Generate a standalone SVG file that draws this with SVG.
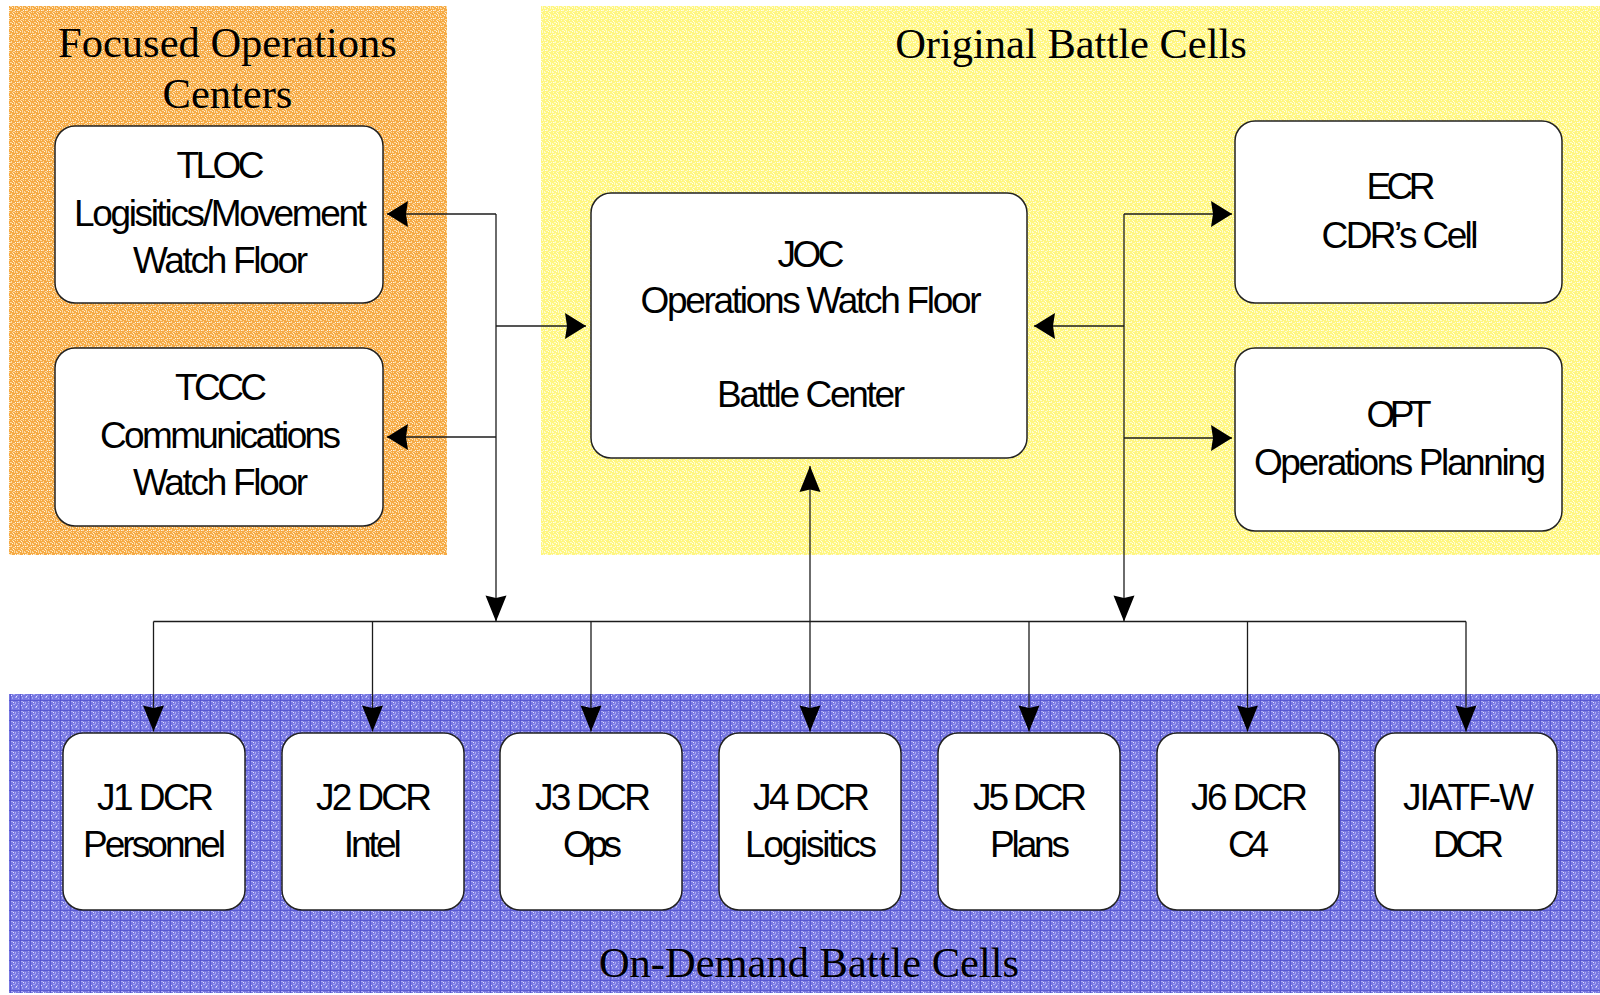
<svg xmlns="http://www.w3.org/2000/svg" width="1600" height="995" viewBox="0 0 1600 995">
  <defs>
    <style>
      .title { font-family: "Liberation Serif", "Times New Roman", serif; font-size: 42.5px; fill: #000; text-anchor: middle; }
      .label { font-family: "Liberation Sans", Arial, sans-serif; font-size: 37px; fill: #000; text-anchor: middle; }
      .box { fill: #fff; stroke: #222; stroke-width: 1.5; }
      .wire { fill: none; stroke: #1c1c1c; stroke-width: 1.3; }
    </style>

    <!-- grainy fills for the three cell zones -->
    <pattern id="texOrange" width="8" height="8" patternUnits="userSpaceOnUse">
      <rect width="8" height="8" fill="#F6AA44"/>
      <g fill="#FCDAA4">
        <rect x="0" y="0" width="2" height="1"/><rect x="3" y="1" width="1" height="2"/>
        <rect x="6" y="0" width="1" height="1"/><rect x="5" y="3" width="2" height="1"/>
        <rect x="1" y="4" width="1" height="1"/><rect x="2" y="6" width="2" height="1"/>
        <rect x="6" y="6" width="1" height="2"/><rect x="0" y="7" width="1" height="1"/>
        <rect x="4" y="4" width="1" height="1"/><rect x="7" y="4" width="1" height="1"/>
        <rect x="2" y="2" width="1" height="1"/>
      </g>
      <g fill="#FFF6E6">
        <rect x="7" y="2" width="1" height="1"/><rect x="1" y="2" width="1" height="1"/>
        <rect x="4" y="7" width="1" height="1"/><rect x="5" y="5" width="1" height="1"/>
      </g>
    </pattern>
    <pattern id="texYellow" width="8" height="8" patternUnits="userSpaceOnUse">
      <rect width="8" height="8" fill="#FFF680"/>
      <g fill="#FFFCCC">
        <rect x="0" y="0" width="2" height="1"/><rect x="3" y="1" width="1" height="2"/>
        <rect x="6" y="0" width="1" height="1"/><rect x="5" y="3" width="2" height="1"/>
        <rect x="1" y="4" width="1" height="1"/><rect x="2" y="6" width="2" height="1"/>
        <rect x="6" y="6" width="1" height="2"/><rect x="0" y="7" width="1" height="1"/>
        <rect x="4" y="4" width="1" height="1"/><rect x="7" y="2" width="1" height="1"/>
        <rect x="2" y="2" width="1" height="1"/>
      </g>
      <g fill="#FFFFF2">
        <rect x="1" y="2" width="1" height="1"/><rect x="4" y="7" width="1" height="1"/>
        <rect x="5" y="5" width="1" height="1"/>
      </g>
    </pattern>
    <pattern id="texBlue" width="10" height="10" patternUnits="userSpaceOnUse">
      <rect width="10" height="10" fill="#7878E2"/>
      <g fill="#ABABF3">
        <rect x="1" y="1" width="2" height="1"/><rect x="5" y="2" width="1" height="2"/>
        <rect x="8" y="1" width="1" height="1"/><rect x="3" y="4" width="2" height="1"/>
        <rect x="7" y="5" width="1" height="1"/><rect x="2" y="7" width="1" height="2"/>
        <rect x="5" y="7" width="2" height="1"/><rect x="8" y="8" width="1" height="1"/>
        <rect x="8" y="3" width="1" height="1"/>
      </g>
      <g fill="#EAEAFF">
        <rect x="3" y="2" width="1" height="1"/><rect x="6" y="6" width="1" height="1"/>
        <rect x="1" y="5" width="1" height="1"/>
      </g>
      <g fill="#5252CE">
        <rect x="0" y="0" width="10" height="0.8"/><rect x="0" y="0" width="0.8" height="10"/>
      </g>
    </pattern>

    <!-- arrowheads: horizontal runs use a shorter, wider head than vertical runs -->
    <marker id="headH" markerUnits="userSpaceOnUse" markerWidth="24" markerHeight="28" viewBox="-22 -14 24 28" refX="0" refY="0" orient="auto">
      <path d="M0,0 L-21,-13 L-19,0 L-21,13 Z" fill="#000"/>
    </marker>
    <marker id="headV" markerUnits="userSpaceOnUse" markerWidth="28" markerHeight="24" viewBox="-27 -12 28 24" refX="0" refY="0" orient="auto-start-reverse">
      <path d="M0,0 L-26,-10.5 L-23.5,0 L-26,10.5 Z" fill="#000"/>
    </marker>
  </defs>

  <rect width="1600" height="995" fill="#fff"/>

  <!-- zones -->
  <g id="zones">
    <rect x="9" y="6" width="438" height="549" fill="url(#texOrange)"/>
    <rect x="541" y="6" width="1059" height="549" fill="url(#texYellow)"/>
    <rect x="9" y="694" width="1591" height="299" fill="url(#texBlue)"/>
    <text class="title" x="227.5" y="57">Focused Operations</text>
    <text class="title" x="227.5" y="108">Centers</text>
    <text class="title" x="1071" y="58">Original Battle Cells</text>
    <text class="title" x="809" y="977">On-Demand Battle Cells</text>
  </g>

  <!-- connectors -->
  <g id="connectors" class="wire">
    <path d="M496,214 V621.5" marker-end="url(#headV)"/>
    <path d="M496,214 H387" marker-end="url(#headH)"/>
    <path d="M496,437 H387" marker-end="url(#headH)"/>
    <path d="M496,326 H586" marker-end="url(#headH)"/>
    <path d="M1124,214 V621.5" marker-end="url(#headV)"/>
    <path d="M1124,214 H1232" marker-end="url(#headH)"/>
    <path d="M1124,326 H1034" marker-end="url(#headH)"/>
    <path d="M1124,438 H1232" marker-end="url(#headH)"/>
    <path d="M810,466 V731.5" marker-start="url(#headV)" marker-end="url(#headV)"/>
    <path d="M153.5,621.5 H1466"/>
    <path d="M153.5,621.5 V731.5" marker-end="url(#headV)"/>
    <path d="M372.5,621.5 V731.5" marker-end="url(#headV)"/>
    <path d="M591,621.5 V731.5" marker-end="url(#headV)"/>
    <path d="M1029,621.5 V731.5" marker-end="url(#headV)"/>
    <path d="M1247.5,621.5 V731.5" marker-end="url(#headV)"/>
    <path d="M1466,621.5 V731.5" marker-end="url(#headV)"/>
  </g>

  <!-- focused operations centers -->
  <g id="tloc">
    <rect class="box" x="55" y="126" width="328" height="177" rx="20"/>
    <text class="label" x="220.5" y="178" textLength="88" lengthAdjust="spacing">TLOC</text>
    <text class="label" x="220.5" y="226" textLength="293" lengthAdjust="spacing">Logisitics/Movement</text>
    <text class="label" x="220.5" y="273" textLength="175" lengthAdjust="spacing">Watch Floor</text>
  </g>
  <g id="tccc">
    <rect class="box" x="55" y="348" width="328" height="178" rx="20"/>
    <text class="label" x="221" y="400" textLength="92" lengthAdjust="spacing">TCCC</text>
    <text class="label" x="220.5" y="448" textLength="241" lengthAdjust="spacing">Communications</text>
    <text class="label" x="220.5" y="495" textLength="175" lengthAdjust="spacing">Watch Floor</text>
  </g>

  <!-- original battle cells -->
  <g id="joc">
    <rect class="box" x="591" y="193" width="436" height="265" rx="20"/>
    <text class="label" x="811" y="267" textLength="67" lengthAdjust="spacing">JOC</text>
    <text class="label" x="811" y="313" textLength="341" lengthAdjust="spacing">Operations Watch Floor</text>
    <text class="label" x="811" y="407" textLength="188" lengthAdjust="spacing">Battle Center</text>
  </g>
  <g id="ecr">
    <rect class="box" x="1235" y="121" width="327" height="182" rx="20"/>
    <text class="label" x="1401" y="199" textLength="69" lengthAdjust="spacing">ECR</text>
    <text class="label" x="1400" y="248" textLength="157" lengthAdjust="spacing">CDR’s Cell</text>
  </g>
  <g id="opt">
    <rect class="box" x="1235" y="348" width="327" height="183" rx="20"/>
    <text class="label" x="1399" y="427" textLength="65" lengthAdjust="spacing">OPT</text>
    <text class="label" x="1400" y="475" textLength="292" lengthAdjust="spacing">Operations Planning</text>
  </g>

  <!-- on-demand battle cells -->
  <g id="j1">
    <rect class="box" x="63" y="733" width="182" height="177" rx="20"/>
    <text class="label" x="155.5" y="810" textLength="117" lengthAdjust="spacing">J1 DCR</text>
    <text class="label" x="154.5" y="857" textLength="143" lengthAdjust="spacing">Personnel</text>
  </g>
  <g id="j2">
    <rect class="box" x="282" y="733" width="182" height="177" rx="20"/>
    <text class="label" x="374" y="810" textLength="116" lengthAdjust="spacing">J2 DCR</text>
    <text class="label" x="372.7" y="857" textLength="58" lengthAdjust="spacing">Intel</text>
  </g>
  <g id="j3">
    <rect class="box" x="500" y="733" width="182" height="177" rx="20"/>
    <text class="label" x="593" y="810" textLength="116" lengthAdjust="spacing">J3 DCR</text>
    <text class="label" x="592.5" y="857" textLength="59" lengthAdjust="spacing">Ops</text>
  </g>
  <g id="j4">
    <rect class="box" x="719" y="733" width="182" height="177" rx="20"/>
    <text class="label" x="811.5" y="810" textLength="117" lengthAdjust="spacing">J4 DCR</text>
    <text class="label" x="811" y="857" textLength="132" lengthAdjust="spacing">Logisitics</text>
  </g>
  <g id="j5">
    <rect class="box" x="938" y="733" width="182" height="177" rx="20"/>
    <text class="label" x="1030" y="810" textLength="114" lengthAdjust="spacing">J5 DCR</text>
    <text class="label" x="1030" y="857" textLength="80" lengthAdjust="spacing">Plans</text>
  </g>
  <g id="j6">
    <rect class="box" x="1157" y="733" width="182" height="177" rx="20"/>
    <text class="label" x="1249.5" y="810" textLength="117" lengthAdjust="spacing">J6 DCR</text>
    <text class="label" x="1248.5" y="857" textLength="41" lengthAdjust="spacing">C4</text>
  </g>
  <g id="jiatf">
    <rect class="box" x="1375" y="733" width="182" height="177" rx="20"/>
    <text class="label" x="1468.5" y="810" textLength="131" lengthAdjust="spacing">JIATF-W</text>
    <text class="label" x="1468.5" y="857" textLength="71" lengthAdjust="spacing">DCR</text>
  </g>
</svg>
